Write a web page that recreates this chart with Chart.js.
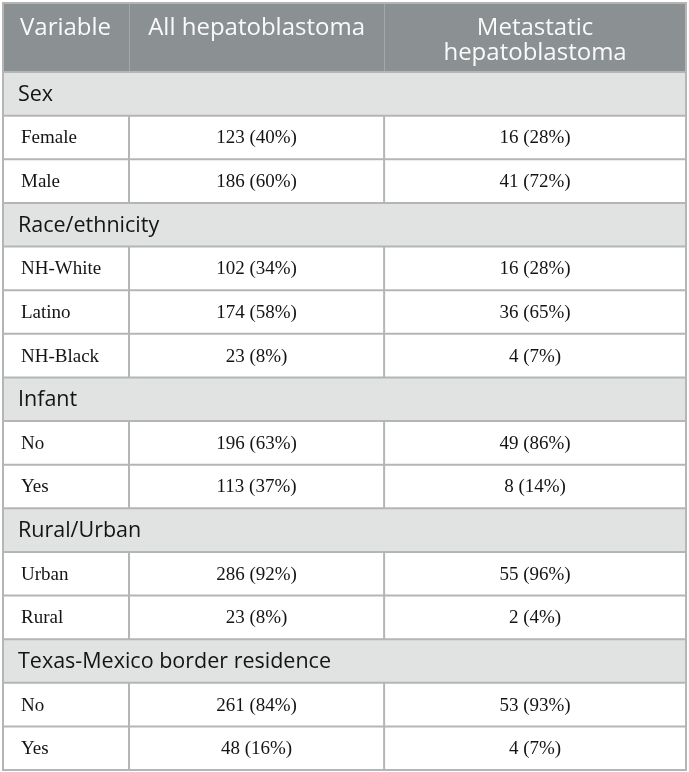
<!DOCTYPE html>
<html>
<head>
<meta charset="utf-8">
<script src="https://cdn.jsdelivr.net/npm/chart.js@4.4.1/dist/chart.umd.min.js"></script>
<style>
  html, body { margin: 0; padding: 0; background: #fff; }
  #wrap { position: relative; width: 689px; height: 772px; }
</style>
</head>
<body>
<div id="wrap"><canvas id="tbl"></canvas></div>
<script>
const columnHeaders = ["Variable", "All hepatoblastoma", ["Metastatic", "hepatoblastoma"]];
const rowLabels = ["Sex", "Female", "Male",
  "Race/ethnicity", "NH-White", "Latino", "NH-Black",
  "Infant", "No", "Yes",
  "Rural/Urban", "Urban", "Rural",
  "Texas-Mexico border residence", "No", "Yes"];
const sectionRows = [0, 3, 7, 10, 13];
const allCount = [null, 123, 186, null, 102, 174, 23, null, 196, 113, null, 286, 23, null, 261, 48];
const allPct   = [null, 40, 60, null, 34, 58, 8, null, 63, 37, null, 92, 8, null, 84, 16];
const metCount = [null, 16, 41, null, 16, 36, 4, null, 49, 8, null, 55, 2, null, 53, 4];
const metPct   = [null, 28, 72, null, 28, 65, 7, null, 86, 14, null, 96, 4, null, 93, 7];

// column edges in x-scale units (0..100)
const colEdges = [0, 18.45, 55.8, 100];

const HEADER_TOP = 3;
const C = {
  headBg: "#8b9092",
  headText: "#fafafa",
  headDiv: "#a3a7a9",
  sectionBg: "#e1e2e2",
  line: "#b4b6b6",
  text: "#141414"
};
const SANS = "'Open Sans', 'Noto Sans', sans-serif";
const SERIF = "'Liberation Serif', 'DejaVu Serif', serif";

const isSection = i => sectionRows.includes(i);
const cellText = (n, p) => n == null ? "" : `${n} (${p}%)`;

/* === TABLE PLUGIN */
const tablePlugin = {
  id: "tableCells",
  afterDatasetsDraw(chart) {
    const ctx = chart.ctx;
    const xs = chart.scales.x;
    const ys = chart.scales.y;
    const { top, bottom, left, right } = chart.chartArea;
    const band = (bottom - top) / rowLabels.length;
    const cx = colEdges.map(v => xs.getPixelForValue(v));

    ctx.save();

    // header block
    ctx.fillStyle = C.headBg;
    ctx.fillRect(left, HEADER_TOP, right - left, top - HEADER_TOP);
    ctx.strokeStyle = C.headDiv;
    ctx.lineWidth = 1;
    [cx[1], cx[2]].forEach(x => {
      ctx.beginPath();
      ctx.moveTo(Math.round(x) + 0.5, HEADER_TOP);
      ctx.lineTo(Math.round(x) + 0.5, top);
      ctx.stroke();
    });
    ctx.fillStyle = C.headText;
    ctx.font = "24px " + SANS;
    ctx.textBaseline = "alphabetic";
    ctx.textAlign = "left";
    ctx.fillText(columnHeaders[0], cx[0] + 17, HEADER_TOP + 32);
    ctx.textAlign = "center";
    ctx.fillText(columnHeaders[1], (cx[1] + cx[2]) / 2, HEADER_TOP + 32);
    columnHeaders[2].forEach((t, k) => {
      ctx.fillText(t, (cx[2] + cx[3]) / 2, HEADER_TOP + 32 + k * 25);
    });

    // rows
    rowLabels.forEach((lab, i) => {
      const yc = ys.getPixelForValue(i);
      const y0 = yc - band / 2, y1 = yc + band / 2;

      // horizontal line on top of each row
      ctx.strokeStyle = C.line;
      ctx.lineWidth = 2;
      ctx.beginPath();
      ctx.moveTo(left, y0);
      ctx.lineTo(right, y0);
      ctx.stroke();

      ctx.fillStyle = C.text;
      ctx.textBaseline = "middle";
      if (isSection(i)) {
        ctx.font = "21.5px " + SANS;
        ctx.textAlign = "left";
        ctx.fillText(lab, cx[0] + 15, yc + 1);
        return;
      }
      // vertical dividers only in data rows
      ctx.beginPath();
      [cx[1], cx[2]].forEach(x => {
        ctx.moveTo(x, y0);
        ctx.lineTo(x, y1);
      });
      ctx.stroke();

      ctx.font = "19px " + SERIF;
      ctx.textAlign = "left";
      ctx.fillText(lab, cx[0] + 18, yc + 1);
      ctx.textAlign = "center";
      ctx.fillText(cellText(allCount[i], allPct[i]), (cx[1] + cx[2]) / 2, yc + 1);
      ctx.fillText(cellText(metCount[i], metPct[i]), (cx[2] + cx[3]) / 2, yc + 1);
    });

    // outer frame
    ctx.strokeStyle = C.line;
    ctx.lineWidth = 2;
    ctx.strokeRect(left, HEADER_TOP, right - left, bottom - HEADER_TOP);
    ctx.restore();
  }
};

new Chart(document.getElementById("tbl"), {
  type: "bar",
  data: {
    labels: rowLabels,
    datasets: [{
      // shaded section rows as full-width floating bars
      data: rowLabels.map((_, i) => isSection(i) ? [colEdges[0], colEdges[3]] : null),
      backgroundColor: C.sectionBg,
      borderWidth: 0,
      barPercentage: 1,
      categoryPercentage: 1
    }]
  },
  options: {
    indexAxis: "y",
    responsive: true,
    maintainAspectRatio: false,
    animation: false,
    layout: { padding: { top: 72, left: 3, right: 3, bottom: 2 } },
    plugins: { legend: { display: false }, tooltip: { enabled: false } },
    scales: {
      x: { type: "linear", min: 0, max: 100, display: false },
      y: { type: "category", offset: true, display: false }
    }
  },
  plugins: [tablePlugin]
});
</script>
</body>
</html>
